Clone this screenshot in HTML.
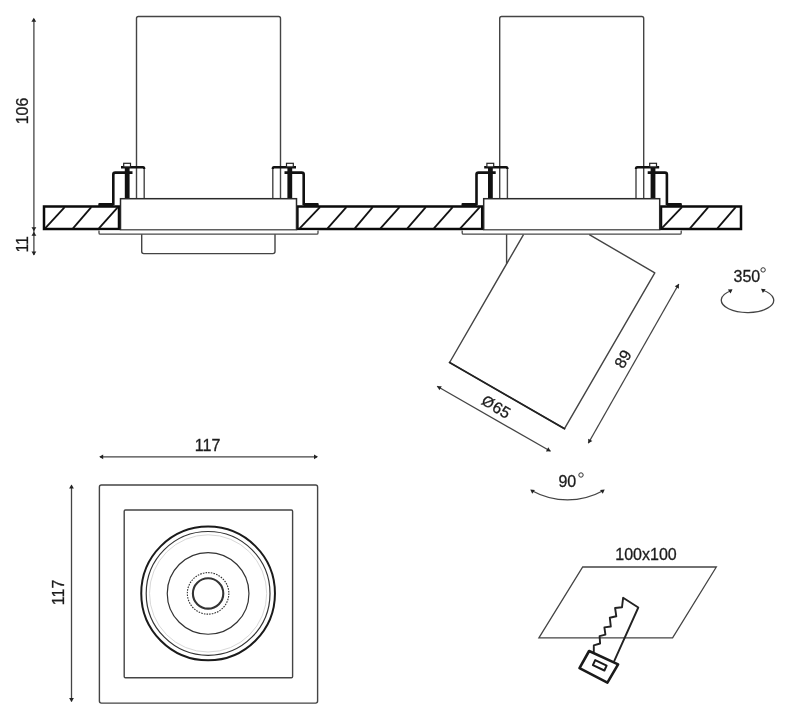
<!DOCTYPE html>
<html lang="en"><head><meta charset="utf-8"><title>Technical drawing</title>
<style>
html,body{margin:0;padding:0;background:#fff;}
body{width:790px;height:720px;overflow:hidden;}
svg{display:block;filter:blur(0.35px);}
.t{stroke:#444;stroke-width:1.4;fill:none;}
.f{stroke:#2a2a2a;stroke-width:1.5;}
.g{stroke:#484848;stroke-width:1.3;}
.k{stroke:#111;fill:none;}
.c{stroke:#0a0a0a;stroke-width:2.5;fill:#fff;}
.h{stroke:#111;stroke-width:1.8;}
.d{stroke:#444;stroke-width:1.3;}
.tx{font-family:"Liberation Sans","DejaVu Sans",sans-serif;font-size:16px;fill:#1c1c1c;stroke:#1c1c1c;stroke-width:0.3px;}
</style></head><body>
<svg width="790" height="720" viewBox="0 0 790 720">
<rect width="790" height="720" fill="#fff"/>
<rect x="44" y="206.5" width="75" height="22.5" class="c"/>
<line x1="45.1" y1="228.4" x2="64.7" y2="207.2" class="h"/>
<line x1="73" y1="228.4" x2="91.3" y2="207.2" class="h"/>
<line x1="98.9" y1="228.4" x2="117.9" y2="207.2" class="h"/>
<rect x="297.4" y="206.5" width="184.8" height="22.5" class="c"/>
<line x1="299.7" y1="228.4" x2="320" y2="207.2" class="h"/>
<line x1="327.6" y1="228.4" x2="346.4" y2="207.2" class="h"/>
<line x1="354.8" y1="228.4" x2="372.7" y2="207.2" class="h"/>
<line x1="380.5" y1="228.4" x2="399.5" y2="207.2" class="h"/>
<line x1="407.4" y1="228.4" x2="425.8" y2="207.2" class="h"/>
<line x1="433.9" y1="228.4" x2="452.7" y2="207.2" class="h"/>
<line x1="460.3" y1="228.4" x2="479.8" y2="207.2" class="h"/>
<rect x="661" y="206.5" width="80" height="22.5" class="c"/>
<line x1="661.7" y1="228.4" x2="682" y2="207.2" class="h"/>
<line x1="690" y1="228.4" x2="708.3" y2="207.2" class="h"/>
<line x1="717.4" y1="228.4" x2="735.7" y2="207.2" class="h"/>
<path d="M136.5,198.7 V18.4 Q136.5,16.5 138.4,16.5 H278.6 Q280.5,16.5 280.5,18.4 V198.7" class="t"/>
<path d="M144.2,198.5 V168" class="t"/>
<path d="M121.0,167.2 H143.0 Q144.2,167.2 144.2,169" class="k" stroke-width="2.4"/>
<path d="M132.5,172.6 H115.3 Q113.3,172.6 113.3,174.6 V205" class="k" stroke-width="2.6"/>
<rect x="124.8" y="167" width="4.8" height="31.5" fill="#111"/>
<rect x="123.69999999999999" y="163.3" width="6.8" height="3.6" fill="#fff" stroke="#222" stroke-width="1.2"/>
<rect x="98.3" y="203" width="15.2" height="3.4" rx="1" fill="#111"/>
<path d="M272.8,198.5 V168" class="t"/>
<path d="M296.0,167.2 H274.0 Q272.8,167.2 272.8,169" class="k" stroke-width="2.4"/>
<path d="M284.5,172.6 H301.7 Q303.7,172.6 303.7,174.6 V205" class="k" stroke-width="2.6"/>
<rect x="287.40000000000003" y="167" width="4.8" height="31.5" fill="#111"/>
<rect x="286.5" y="163.3" width="6.8" height="3.6" fill="#fff" stroke="#222" stroke-width="1.2"/>
<rect x="303.5" y="203" width="15.2" height="3.4" rx="1" fill="#111"/>
<rect x="120.5" y="198.7" width="176" height="31.3" fill="#fff" class="f"/>
<path d="M99.0,230.4 V233 Q99.0,234.2 100.2,234.2 H316.8 Q318.0,234.2 318.0,233 V230.4" fill="#fff" class="g"/>
<path d="M141.7,234.2 V251.5 Q141.7,253.6 143.8,253.6 H272.9 Q275,253.6 275,251.5 V234.2" class="t" fill="none"/>
<path d="M499.70000000000005,198.7 V18.4 Q499.70000000000005,16.5 501.6,16.5 H641.8000000000001 Q643.7,16.5 643.7,18.4 V198.7" class="t"/>
<path d="M507.40000000000003,198.5 V168" class="t"/>
<path d="M484.20000000000005,167.2 H506.20000000000005 Q507.40000000000003,167.2 507.40000000000003,169" class="k" stroke-width="2.4"/>
<path d="M495.70000000000005,172.6 H478.50000000000006 Q476.50000000000006,172.6 476.50000000000006,174.6 V205" class="k" stroke-width="2.6"/>
<rect x="488.00000000000006" y="167" width="4.8" height="31.5" fill="#111"/>
<rect x="486.9000000000001" y="163.3" width="6.8" height="3.6" fill="#fff" stroke="#222" stroke-width="1.2"/>
<rect x="461.50000000000006" y="203" width="15.2" height="3.4" rx="1" fill="#111"/>
<path d="M636.0,198.5 V168" class="t"/>
<path d="M659.2,167.2 H637.2 Q636.0,167.2 636.0,169" class="k" stroke-width="2.4"/>
<path d="M647.7,172.6 H664.9000000000001 Q666.9000000000001,172.6 666.9000000000001,174.6 V205" class="k" stroke-width="2.6"/>
<rect x="650.6" y="167" width="4.8" height="31.5" fill="#111"/>
<rect x="649.7" y="163.3" width="6.8" height="3.6" fill="#fff" stroke="#222" stroke-width="1.2"/>
<rect x="666.7" y="203" width="15.2" height="3.4" rx="1" fill="#111"/>
<rect x="483.70000000000005" y="198.7" width="176" height="31.3" fill="#fff" class="f"/>
<path d="M462.20000000000005,230.4 V233 Q462.20000000000005,234.2 463.40000000000003,234.2 H680.0 Q681.2,234.2 681.2,233 V230.4" fill="#fff" class="g"/>
<path d="M523.5,234.6 L449.6,362.5 L564.5,428.7 L654.8,272.85 L589.3,234.6" class="t" fill="none" stroke-linejoin="round"/>
<path d="M506.6,234.4 V263.5" class="t"/>
<path d="M449.6,362.5 L564.5,428.7" stroke="#222" stroke-width="1.8" fill="none" stroke-linecap="round"/>
<line x1="33.9" y1="19" x2="33.9" y2="255" class="d"/>
<polygon points="33.80,17.70 36.20,21.70 31.40,21.70" fill="#222"/>
<polygon points="33.90,231.20 31.50,227.20 36.30,227.20" fill="#222"/>
<polygon points="33.90,231.80 36.30,235.80 31.50,235.80" fill="#222"/>
<polygon points="33.90,255.50 31.50,251.50 36.30,251.50" fill="#222"/>
<text transform="translate(28.2,111) rotate(-90)" text-anchor="middle" class="tx">106</text>
<text transform="translate(28.2,244.3) rotate(-90)" text-anchor="middle" class="tx">11</text>
<line x1="437.1" y1="386.3" x2="550.6" y2="451.3" class="d"/>
<polygon points="437.10,386.30 441.76,386.21 439.38,390.37" fill="#222"/>
<polygon points="550.60,451.30 545.94,451.39 548.32,447.23" fill="#222"/>
<text transform="translate(493.4,411.6) rotate(30)" text-anchor="middle" class="tx"><tspan font-size="15" dy="-0.6">Ø</tspan><tspan dx="0.8" dy="0.6">65</tspan></text>
<line x1="588.3" y1="443.3" x2="678.8" y2="284" class="d"/>
<polygon points="588.30,443.30 588.19,438.64 592.36,441.01" fill="#222"/>
<polygon points="678.80,284.00 678.91,288.66 674.74,286.29" fill="#222"/>
<text transform="translate(627.7,361.75) rotate(-60)" text-anchor="middle" class="tx">89</text>
<text x="733.5" y="282.2" class="tx">350</text>
<circle cx="763.1" cy="269.9" r="2.2" fill="none" stroke="#333" stroke-width="1"/>
<path d="M731.5,290.5 A26.2,12.3 0 1 0 762,290" fill="none" stroke="#444" stroke-width="1.3"/>
<polygon points="732.50,289.20 730.60,293.46 727.85,289.53" fill="#222"/>
<polygon points="761.00,288.80 765.65,289.13 762.90,293.06" fill="#222"/>
<text x="558.4" y="487.3" class="tx">90</text>
<circle cx="581" cy="475" r="2.2" fill="none" stroke="#333" stroke-width="1"/>
<path d="M532,490.8 A73.5,73.5 0 0 0 603,490.8" fill="none" stroke="#444" stroke-width="1.3"/>
<polygon points="530.30,489.60 534.95,489.93 532.20,493.86" fill="#222"/>
<polygon points="604.70,489.60 602.80,493.86 600.05,489.93" fill="#222"/>
<rect x="99.4" y="485" width="218.2" height="218.1" rx="2" class="t" fill="none"/>
<rect x="124.2" y="510" width="168.4" height="167.8" rx="1.2" class="t" fill="none"/>
<circle cx="208.1" cy="593.4" r="66.85" fill="none" stroke="#1a1a1a" stroke-width="2"/>
<circle cx="208.1" cy="593.4" r="61.9" fill="none" stroke="#333" stroke-width="1.2"/>
<circle cx="208.1" cy="593.4" r="58.6" fill="none" stroke="#d8d8d8" stroke-width="1"/>
<circle cx="208.1" cy="593.4" r="40.85" fill="none" stroke="#333" stroke-width="1.2"/>
<circle cx="208.1" cy="593.4" r="20.75" fill="none" stroke="#333" stroke-width="1.1" stroke-dasharray="1.6 1.1"/>
<circle cx="208.1" cy="593.4" r="15.2" fill="none" stroke="#333" stroke-width="2.1"/>
<line x1="100" y1="456.8" x2="317" y2="456.8" class="d"/>
<polygon points="99.20,456.80 103.20,454.40 103.20,459.20" fill="#222"/>
<polygon points="318.00,456.80 314.00,459.20 314.00,454.40" fill="#222"/>
<text x="207.6" y="450.5" text-anchor="middle" class="tx">117</text>
<line x1="71.5" y1="485.5" x2="71.5" y2="701.5" class="d"/>
<polygon points="71.50,484.40 73.90,488.40 69.10,488.40" fill="#222"/>
<polygon points="71.50,702.00 69.10,698.00 73.90,698.00" fill="#222"/>
<text transform="translate(64.3,592.4) rotate(-90)" text-anchor="middle" class="tx">117</text>
<polygon points="582.7,567 716.3,567 672.6,637.8 538.9,637.8" fill="none" stroke="#444" stroke-width="1.3"/>
<text x="615.3" y="560.2" class="tx">100x100</text>
<polyline points="614.3,660.9 638.3,607.5 623.1,597.8 622.0,607.3 615.1,608.0 616.3,616.3 609.8,617.7 610.8,626.5 604.4,627.4 605.4,634.7 599.6,636.2 600.1,643.5 593.8,645.4 593.8,651.5" fill="none" stroke="#222" stroke-width="1.9" stroke-linejoin="round" stroke-linecap="round"/>
<polygon points="589.1,651.0 618.1,664.4 607.4,682.7 579.5,668.2" fill="none" stroke="#1a1a1a" stroke-width="2.6" stroke-linejoin="round"/>
<polygon points="595.2,660.1 606.6,665.6 604.4,670.5 592.9,665.2" fill="none" stroke="#1a1a1a" stroke-width="2" stroke-linejoin="round"/>
</svg>
</body></html>
